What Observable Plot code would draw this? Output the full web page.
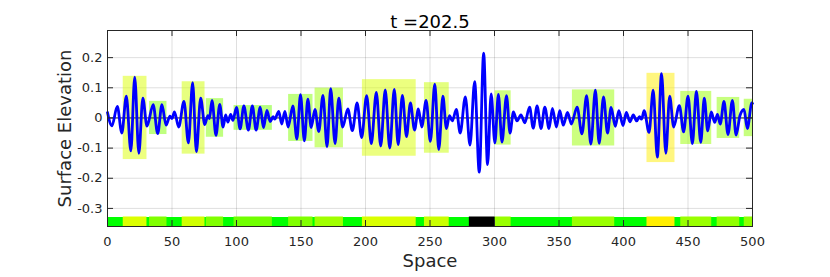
<!DOCTYPE html>
<html><head><meta charset="utf-8">
<script src="https://cdn.jsdelivr.net/npm/d3@7"></script>
<script src="https://cdn.jsdelivr.net/npm/@observablehq/plot@0.6"></script>
<style>body{margin:0;background:#fff;}</style>
</head><body><div id="chart"></div>
<script>
const titleText = "t =202.5";
const xLabel = "Space";
const yLabel = "Surface Elevation";
const xDomain = [0, 500];
const yDomain = [-0.36, 0.29];
const xTicks = [0, 50, 100, 150, 200, 250, 300, 350, 400, 450, 500];
const yTicks = [-0.3, -0.2, -0.1, 0, 0.1, 0.2];

// crests and troughs of the surface elevation
const waveX = [0,3.4,7.6,11.1,14.6,18.1,21.1,24.3,27.4,30.6,35.4,38.9,42.2,45.4,48.4,50.0,51.9,55.2,59.3,62.7,66.0,68.9,72.2,75.4,77.8,79.0,81.0,84.1,87.0,89.6,91.6,93.3,95.5,97.2,100.0,102.8,105.7,109.2,112.3,115.2,118.4,120.9,123.6,126.1,128.4,129.6,132.8,135.0,137.5,140.0,143.7,146.8,149.6,152.6,155.3,157.9,160.8,163.8,167.0,170.2,173.0,176.4,179.3,182.3,186.3,189.8,193.5,197.0,200.9,204.5,208.4,211.8,215.3,218.8,222.3,225.3,228.6,231.8,234.8,238.0,241.0,243.6,247.0,250.3,253.7,256.8,260.0,262.7,265.1,267.3,270.4,273.4,277.4,281.0,284.6,288.2,291.6,294.6,297.4,300.3,303.0,305.8,309.3,312.0,314.7,317.4,320.5,323.5,327.2,330.0,333.0,336.1,339.0,342.3,344.9,348.0,350.6,353.3,356.6,359.6,364.0,367.8,371.4,374.7,378.2,381.1,384.5,387.6,390.4,393.6,396.4,399.6,402.2,405.0,407.6,410.2,412.4,414.0,416.0,419.8,423.0,426.2,429.5,432.8,435.8,438.9,443.3,446.6,450.0,453.4,456.5,459.9,462.6,465.3,468.0,470.7,472.8,475.0,477.9,481.0,484.4,487.3,490.3,493.4,496.0,499.5,500];
const waveY = [0.018,-0.026,0.038,-0.05,0.072,-0.109,0.135,-0.117,0.066,-0.027,0.044,-0.052,0.044,-0.024,0.006,-0.002,0.02,-0.03,0.055,-0.083,0.117,-0.112,0.066,-0.022,0.008,-0.002,0.058,-0.058,0.045,-0.03,0.01,-0.014,0.012,-0.008,0.035,-0.036,0.04,-0.04,0.04,-0.04,0.036,-0.032,0.025,-0.012,0.004,-0.004,0.022,-0.02,0.022,-0.03,0.04,-0.07,0.077,-0.076,0.062,-0.032,0.028,-0.045,0.075,-0.095,0.097,-0.085,0.066,-0.03,0.03,-0.042,0.05,-0.065,0.074,-0.085,0.085,-0.093,0.093,-0.1,0.095,-0.088,0.075,-0.062,0.05,-0.04,0.03,-0.03,0.058,-0.078,0.112,-0.105,0.072,-0.035,0.008,-0.01,0.028,-0.05,0.07,-0.09,0.12,-0.18,0.215,-0.155,0.08,-0.083,0.078,-0.08,0.074,-0.05,0.02,-0.01,0.01,-0.016,0.036,-0.034,0.04,-0.035,0.036,-0.035,0.032,-0.03,0.024,-0.024,0.018,-0.02,0.036,-0.053,0.074,-0.087,0.092,-0.084,0.07,-0.05,0.035,-0.028,0.024,-0.025,0.018,-0.013,0.01,-0.01,0.004,-0.004,0.024,-0.048,0.092,-0.13,0.147,-0.117,0.072,-0.03,0.041,-0.046,0.072,-0.085,0.088,-0.081,0.066,-0.043,0.02,-0.015,0.012,-0.02,0.055,-0.055,0.058,-0.057,0.008,0.028,-0.035,0.05,0.048];

// highlighted wave groups
const groupStart = [12.2, 32.6, 57.9, 76.6, 98.1, 140.4, 160.9, 197.6, 245.7, 300.5, 360.4, 418.2, 444.4, 472.6, 493.6];
const groupEnd   = [30.6, 46.1, 75.6, 90.0, 127.8, 159.3, 182.9, 239.3, 264.9, 312.9, 393.2, 439.9, 468.4, 490.1, 500];
const groupHalf  = [0.138, 0.055, 0.12, 0.064, 0.041, 0.078, 0.099, 0.127, 0.117, 0.09, 0.093, 0.148, 0.088, 0.068, 0.062];
const groupColor = ["#dcff00", "#80ff00", "#d0ff00", "#80ff00", "#70ff00", "#80ff00", "#a0ff00", "#daff00", "#caff00", "#99ff00", "#99ff00", "#ffee00", "#99ff00", "#90ff00", "#90ff00"];
// bar-only segment (no box)
const darkStart = [280.5];
const darkEnd = [300.5];
const darkColor = ["#000000"];
const barBase = "#00ff00";

const groups = groupStart.map((s, i) => ({s, e: groupEnd[i], h: groupHalf[i], c: groupColor[i]}));
const darks = darkStart.map((s, i) => ({s, e: darkEnd[i], c: darkColor[i]}));
const wave = waveX.map((x, i) => ({x, y: waveY[i]}));

const W = 830, H = 277, mL = 107, mR = 78, mT = 30, mB = 51;
const plotH = H - mT - mB, plotW = W - mL - mR;
const barH = 9.5, tickLen = 6;
const axisColor = "#262626";

const chart = Plot.plot({
  width: W, height: H,
  marginLeft: mL, marginRight: mR, marginTop: mT, marginBottom: mB,
  style: {fontFamily: "DejaVu Sans", fontSize: "13px", color: axisColor, background: "#fff"},
  x: {domain: xDomain, ticks: xTicks, tickSize: 0, tickPadding: 10, tickFormat: d => String(d), label: null},
  y: {domain: yDomain, ticks: yTicks, tickSize: 0, tickPadding: 5, tickFormat: d => String(d), label: null},
  color: {type: "identity"},
  marks: [
    Plot.ruleX(xTicks, {x: d => d, stroke: axisColor, strokeOpacity: 0.15}),
    Plot.ruleY(yTicks, {y: d => d, stroke: axisColor, strokeOpacity: 0.15}),
    Plot.rect(groups, {x1: "s", x2: "e", y1: d => -d.h, y2: d => d.h, fill: "c", fillOpacity: 0.5}),
    Plot.frame({fill: barBase, stroke: null, insetTop: plotH - barH}),
    Plot.rect(groups, {x1: "s", x2: "e", fill: "c", insetTop: plotH - barH}),
    Plot.rect(darks, {x1: "s", x2: "e", fill: "c", insetTop: plotH - barH}),
    Plot.ruleY([0], {y: d => d, stroke: axisColor, strokeWidth: 1}),
    Plot.line(wave, {x: "x", y: "y", curve: "monotone-x", stroke: "#0000ff", strokeWidth: 2.8}),
    Plot.frame({stroke: axisColor, strokeWidth: 1}),
    Plot.tickX(xTicks, {x: d => d, stroke: axisColor, insetTop: plotH - tickLen}),
    Plot.tickX(xTicks, {x: d => d, stroke: axisColor, insetBottom: plotH - tickLen}),
    Plot.tickY(yTicks, {y: d => d, stroke: axisColor, insetRight: plotW - tickLen}),
    Plot.tickY(yTicks, {y: d => d, stroke: axisColor, insetLeft: plotW - tickLen}),
    Plot.text([titleText], {text: d => d, frameAnchor: "top", dy: -15, fontSize: 18, fill: "#000"}),
    Plot.text([xLabel], {text: d => d, frameAnchor: "bottom", dy: 40, fontSize: 18, fill: axisColor}),
    Plot.text([yLabel], {text: d => d, frameAnchor: "left", textAnchor: "middle", dx: -42, rotate: -90, fontSize: 18, fill: axisColor})
  ]
});
document.getElementById("chart").appendChild(chart);
</script>
</body></html>
